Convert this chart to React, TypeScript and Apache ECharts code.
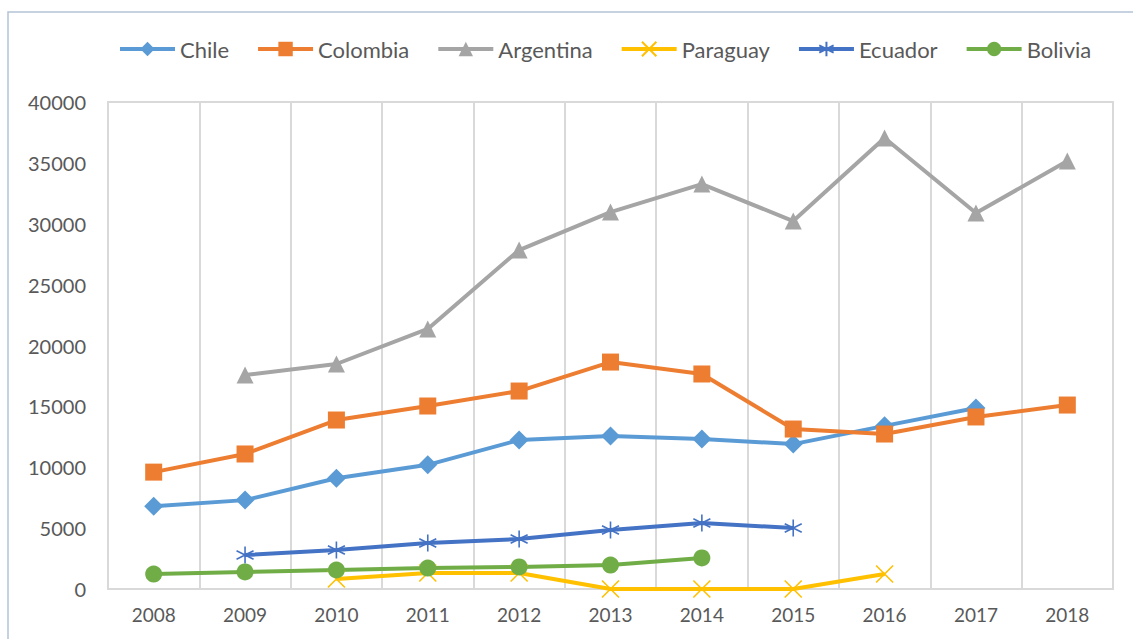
import React, { useEffect, useRef } from "react";
import * as echarts from "echarts";

const years = ["2008", "2009", "2010", "2011", "2012", "2013", "2014", "2015", "2016", "2017", "2018"];
const chile = [6800, 7300, 9100, 10200, 12240, 12570, 12320, 11900, 13400, 14870, null];
const colombia = [9600, 11090, 13880, 15030, 16260, 18640, 17660, 13140, 12730, 14130, 15110];
const argentina = [null, 17580, 18480, 21360, 27840, 30960, 33260, 30220, 37040, 30880, 35150];
const paraguay = [null, null, 820, 1310, 1310, 0, 0, 0, 1230, null, null];
const ecuador = [null, 2790, 3200, 3780, 4100, 4850, 5420, 5010, null, null, null];
const bolivia = [1230, 1400, 1560, 1720, 1810, 1970, 2550, null, null, null, null];

const FONT = "Lato";

export default function App() {
  const ref = useRef<HTMLDivElement>(null);
  useEffect(() => {
    const chart = echarts.init(ref.current!, null, { renderer: "svg" });
    const mk = (name: string, data: (number | null)[], color: string, symbol: string, size: number, extra: any = {}) => ({
      name,
      type: "line",
      data,
      symbol,
      symbolSize: size,
      lineStyle: { color, width: 4 },
      itemStyle: { color, borderColor: color, borderWidth: 0, ...(extra.itemStyle || {}) },
      emphasis: { disabled: true },
    });
    const xPath = "path://M0,0 L10,10 M10,0 L0,10";
    const starPath = "path://M5,0 L5,10 M0.7,2.5 L9.3,7.5 M0.7,7.5 L9.3,2.5";
    chart.setOption({
      animation: false,
      graphic: [
        {
          type: "rect",
          shape: { x: 8, y: 12, width: 1200, height: 700 },
          style: { fill: "none", stroke: "#b4c3d6", lineWidth: 1.5 },
          silent: true,
        },
      ],
      legend: {
        top: 38,
        left: 118,
        padding: 0,
        itemWidth: 55,
        itemHeight: 18,
        itemGap: 27,
        lineStyle: { width: 4 },
        textStyle: { fontFamily: FONT, fontSize: 22, color: "#595959" },
        data: ["Chile", "Colombia", "Argentina", "Paraguay", "Ecuador", "Bolivia"],
      },
      grid: {
        left: 108,
        right: 20,
        top: 102,
        bottom: 50,
        show: true,
        borderColor: "#d9d9d9",
        borderWidth: 2,
        backgroundColor: "transparent",
      },
      xAxis: {
        type: "category",
        data: years,
        boundaryGap: true,
        axisLine: { lineStyle: { color: "#d9d9d9", width: 2 } },
        axisTick: { show: false },
        splitLine: { show: true, lineStyle: { color: "#d9d9d9", width: 2 } },
        axisLabel: { fontFamily: FONT, fontSize: 19, color: "#595959", margin: 16 },
      },
      yAxis: {
        type: "value",
        min: 0,
        max: 40000,
        interval: 5000,
        axisLine: { show: false },
        axisTick: { show: false },
        splitLine: { show: false },
        axisLabel: {
          fontFamily: FONT,
          fontSize: 20,
          color: "#595959",
          margin: 22,
          formatter: (v: number) => String(v),
        },
      },
      series: [
        mk("Chile", chile, "#5b9bd5", "diamond", 19),
        mk("Colombia", colombia, "#ed7d31", "rect", 17),
        mk("Argentina", argentina, "#a5a5a5", "triangle", 17),
        mk("Paraguay", paraguay, "#ffc000", xPath, 17, { itemStyle: { color: "none", borderWidth: 1.6 } }),
        mk("Ecuador", ecuador, "#4472c4", starPath, 17, { itemStyle: { color: "none", borderWidth: 1.6 } }),
        mk("Bolivia", bolivia, "#70ad47", "circle", 17),
      ],
    });
    return () => chart.dispose();
  }, []);
  return (
    <div
      ref={ref}
      style={{ position: "fixed", left: 0, top: 0, width: 1133, height: 639, background: "#fff" }}
    />
  );
}
